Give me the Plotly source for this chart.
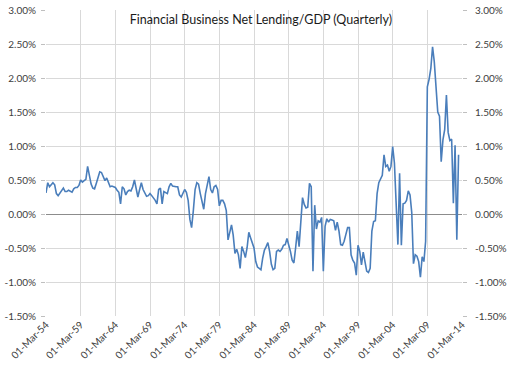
import pandas as pd
import plotly.graph_objects as go

start_date = "1954-03-01"
values = [
    0.31, 0.46, 0.40, 0.43, 0.46, 0.43, 0.30, 0.27, 0.31, 0.35,
    0.38, 0.33, 0.33, 0.35, 0.33, 0.32, 0.37, 0.39, 0.39, 0.42,
    0.50, 0.47, 0.49, 0.51, 0.70, 0.56, 0.44, 0.38, 0.37, 0.45,
    0.55, 0.62, 0.61, 0.55, 0.49, 0.53, 0.45, 0.40, 0.41, 0.40,
    0.39, 0.35, 0.32, 0.15, 0.40, 0.37, 0.28, 0.33, 0.35, 0.34,
    0.40, 0.50, 0.35, 0.25, 0.36, 0.46, 0.36, 0.31, 0.26, 0.27,
    0.30, 0.27, 0.24, 0.20, 0.15, 0.36, 0.38, 0.15, 0.33, 0.31,
    0.30, 0.40, 0.45, 0.41, 0.40, 0.40, 0.40, 0.28, 0.25, 0.30,
    0.36, 0.32, 0.20, -0.08, -0.20, 0.05, 0.36, 0.46, 0.44, 0.30,
    0.20, 0.07, 0.30, 0.45, 0.55, 0.36, 0.31, 0.40, 0.42, 0.36,
    0.12, 0.20, 0.20, 0.15, 0.05, -0.38, -0.28, -0.16, -0.31, -0.58,
    -0.52, -0.60, -0.80, -0.48, -0.55, -0.64, -0.50, -0.27, -0.35, -0.42,
    -0.50, -0.70, -0.78, -0.80, -0.82, -0.65, -0.53, -0.48, -0.42, -0.55,
    -0.74, -0.82, -0.80, -0.55, -0.53, -0.55, -0.52, -0.46, -0.45, -0.36,
    -0.45, -0.55, -0.68, -0.72, -0.50, -0.25, -0.48, -0.15, 0.24, 0.14,
    0.09, 0.10, 0.45, 0.40, -0.84, 0.13, -0.22, -0.10, -0.12, -0.05,
    -0.84, -0.18, -0.07, -0.12, -0.08, -0.09, -0.10, -0.24, -0.12, -0.25,
    -0.45, -0.46, -0.40, -0.30, -0.20, -0.20, -0.60, -0.68, -0.72, -0.90,
    -0.46, -0.55, -0.75, -0.56, -0.70, -0.84, -0.86, -0.80, -0.25, -0.11,
    -0.10, 0.30, 0.46, 0.52, 0.57, 0.87, 0.70, 0.72, 0.63, 0.70,
    0.99, 0.75, 0.10, -0.45, 0.60, -0.46, 0.15, 0.16, 0.20, 0.34,
    0.28, 0.02, -0.73, -0.60, -0.62, -0.70, -0.93, -0.63, -0.70, -0.40,
    1.87, 1.98, 2.14, 2.46, 2.24, 1.82, 1.50, 1.44, 0.77, 1.09,
    1.24, 1.75, 1.20, 1.08, 1.10, 0.16, 1.01, -0.38, 0.87,
]
dates = pd.date_range(start_date, periods=len(values), freq="3MS")
tick_dates = pd.date_range("1954-03-01", "2014-03-01", freq="60MS")
y_ticks = [-1.5, -1.0, -0.5, 0.0, 0.5, 1.0, 1.5, 2.0, 2.5, 3.0]
y_labels = [f"{v:.2f}%" for v in y_ticks]
title = "Financial Business Net Lending/GDP (Quarterly)"

FONT = "Lato, 'Open Sans', sans-serif"

fig = go.Figure()
fig.add_trace(go.Scatter(x=dates, y=values, mode="lines",
                         line=dict(color="#4a7ebb", width=1.6),
                         showlegend=False, hoverinfo="x+y"))
fig.add_trace(go.Scatter(x=[dates[0]], y=[values[0]], yaxis="y2", mode="lines",
                         line=dict(width=0), showlegend=False, hoverinfo="skip"))

axis_common = dict(range=[-1.5, 3.0], tickvals=y_ticks, ticktext=y_labels,
                   showgrid=True, gridcolor="#d9d9d9", gridwidth=1,
                   ticks="outside", ticklen=4, tickcolor="#bfbfbf",
                   tickfont=dict(family=FONT, size=10, color="#404040"),
                   showline=False, fixedrange=True, automargin=False)

fig.update_layout(
    width=513, height=372,
    margin=dict(l=46, r=51, t=10, b=56),
    paper_bgcolor="white", plot_bgcolor="white",
    title=dict(text=title, x=265/513, xanchor="center", xref="paper",
               y=1 - 20/372, yref="container", yanchor="middle",
               font=dict(family=FONT, size=12.5, color="#1a1a1a")),
    xaxis=dict(type="date", range=[tick_dates[0], tick_dates[-1]],
               tickvals=list(tick_dates), tickformat="%d-%b-%y",
               tickangle=-45, showgrid=True, gridcolor="#d9d9d9",
               ticks="", showline=False, zeroline=False, automargin=False,
               tickfont=dict(family=FONT, size=10, color="#404040")),
    yaxis=dict(**axis_common, side="left", zeroline=True,
               zerolinecolor="#8c8c8c", zerolinewidth=1, ticklabelstandoff=3),
    yaxis2=dict(**axis_common, side="right", overlaying="y", zeroline=False,
                ticklabelstandoff=6),
)

fig.write_html("out.html", config={"displayModeBar": False},
               post_script="document.body.style.margin='0';")
